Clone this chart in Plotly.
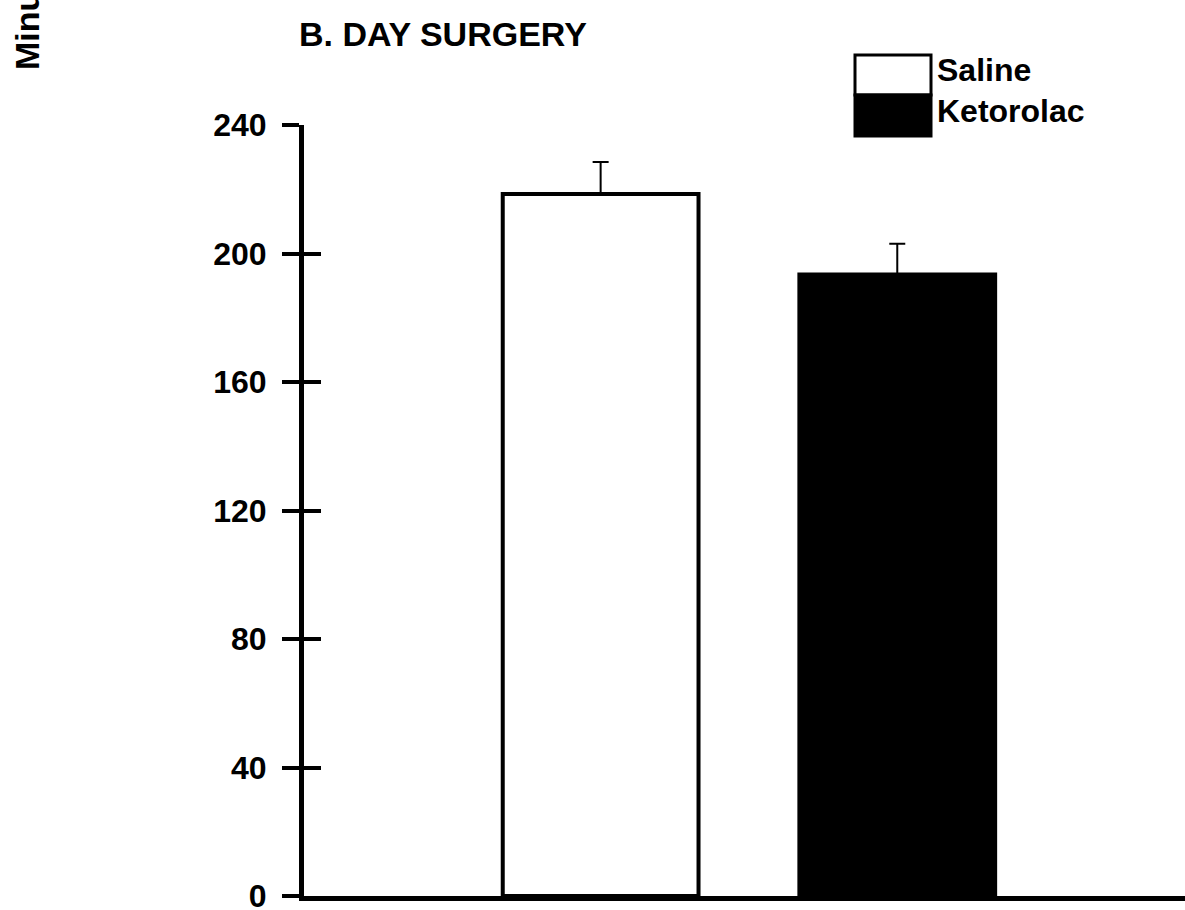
import plotly.graph_objects as go

# Recovery time by treatment group (minutes), mean with upper SEM
groups = ["Saline", "Ketorolac"]
positions = [1, 2]
minutes = [218.5, 193.5]
sem = [10, 9.5]
fills = ["white", "black"]
y_ticks = [0, 40, 80, 120, 160, 200, 240]

FONT = "Liberation Sans, Arial, sans-serif"

W, H = 1185, 910
L, R, T, B = 304, 0, 125, 14
plot_w, plot_h = W - L - R, H - T - B


def px_x(px):
    return (px - L) / plot_w


def px_y(py):
    return (H - B - py) / plot_h


fig = go.Figure()

fig.add_trace(go.Bar(
    x=positions,
    y=minutes,
    width=0.66,
    marker=dict(color=fills, line=dict(color="black", width=4)),
    error_y=dict(type="data", symmetric=False, array=sem,
                 arrayminus=[0] * len(sem), color="black",
                 thickness=2, width=8),
    showlegend=False,
))

# Invisible trace so the overlay axis (inner tick halves) is drawn
fig.add_trace(go.Scatter(x=[None], y=[None], yaxis="y2",
                         showlegend=False, hoverinfo="skip"))

axis_font = dict(family=FONT, size=32, color="black", weight="bold")

fig.update_layout(
    width=W, height=H,
    margin=dict(l=L, r=R, t=T, b=B, autoexpand=False),
    paper_bgcolor="white", plot_bgcolor="white",
    xaxis=dict(range=[0, 2.97], showgrid=False, zeroline=False,
               showticklabels=False, ticks="", automargin=False,
               showline=True, linecolor="black", linewidth=5),
    yaxis=dict(range=[0, 240], tickvals=y_ticks, ticktext=[str(v) for v in y_ticks],
               showgrid=False, zeroline=False, automargin=False,
               ticks="outside", ticklen=17, tickwidth=4, tickcolor="black",
               showline=True, linecolor="black", linewidth=5,
               tickfont=axis_font, ticklabelstandoff=9,
               ticklabeloverflow="allow"),
    yaxis2=dict(range=[0, 240], tickvals=y_ticks, overlaying="y", side="left",
                showgrid=False, zeroline=False, showticklabels=False,
                automargin=False,
                ticks="inside", ticklen=17, tickwidth=4, tickcolor="black",
                showline=False),
)

# Panel title
fig.add_annotation(text="B. DAY SURGERY", xref="paper", yref="paper",
                   x=px_x(297), y=px_y(34), xanchor="left", yanchor="middle",
                   showarrow=False,
                   font=dict(family=FONT, size=34, color="black", weight="bold"))

# Y-axis title, running off the top edge
fig.add_annotation(text="Minutes", xref="paper", yref="paper",
                   x=px_x(6), y=px_y(72), xanchor="left", yanchor="bottom",
                   textangle=-90, showarrow=False,
                   font=dict(family=FONT, size=34, color="black", weight="bold"))

# Key with stacked swatches
key_left, key_right = 855, 931
key_rows = [(55, 95), (95, 136)]
for name, fill, (top, bottom) in zip(groups, fills, key_rows):
    fig.add_shape(type="rect", xref="paper", yref="paper",
                  x0=px_x(key_left), x1=px_x(key_right),
                  y0=px_y(bottom), y1=px_y(top),
                  fillcolor=fill, line=dict(color="black", width=3))
    fig.add_annotation(text=name, xref="paper", yref="paper",
                       x=px_x(935), y=px_y((top + bottom) / 2 - 5),
                       xanchor="left", yanchor="middle", showarrow=False,
                       font=dict(family=FONT, size=32, color="black", weight="bold"))

fig.write_html("out.html")
